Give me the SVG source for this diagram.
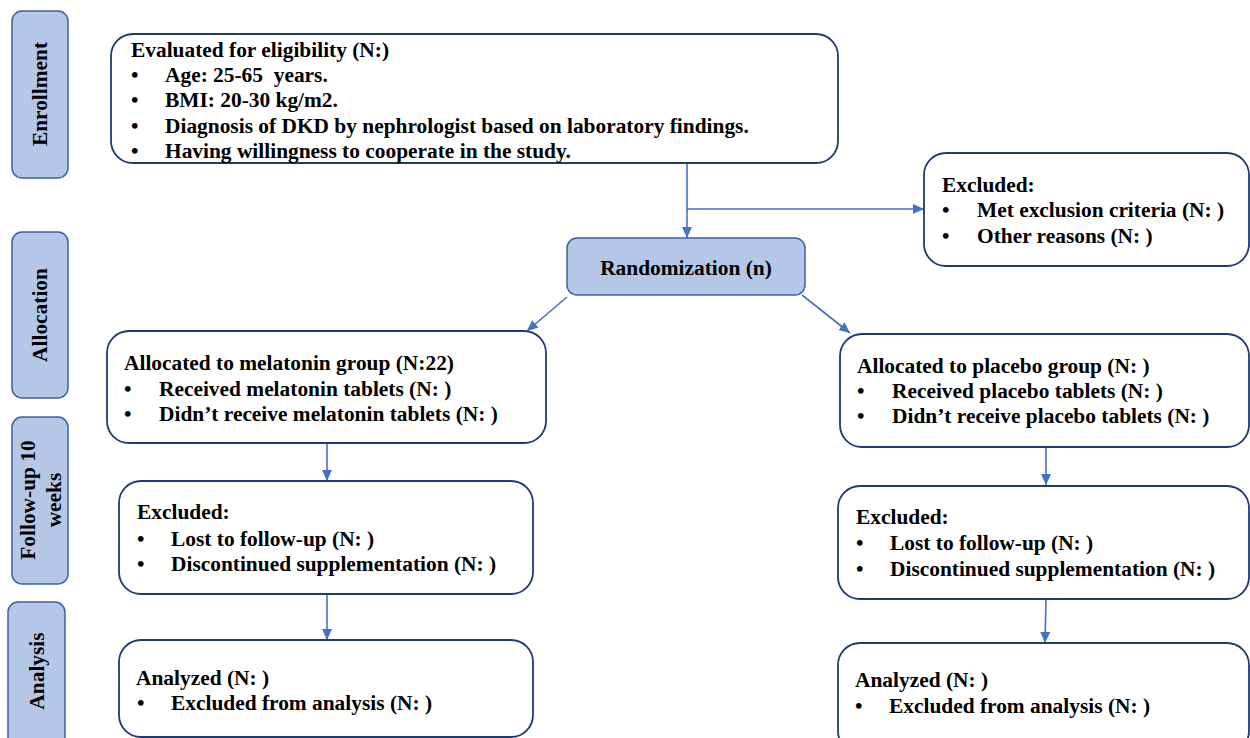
<svg xmlns="http://www.w3.org/2000/svg" width="1250" height="738" viewBox="0 0 1250 738">
<defs>
<marker id="arr" markerUnits="userSpaceOnUse" markerWidth="12" markerHeight="10" refX="11" refY="5" orient="auto">
<path d="M0,0 L11,5 L0,10 Z" fill="#4472C4"/>
</marker>
<style>
.t{font-family:"Liberation Serif","Times New Roman",serif;font-weight:bold;font-size:21.4px;fill:#000;white-space:pre}
.box{fill:#fff;stroke:#1F3A74;stroke-width:1.8}
.stage{fill:#B4C7E7;stroke:#3A62A4;stroke-width:1.5}
.c{stroke:#4472C4;stroke-width:1.6;fill:none}
</style>
</defs>
<rect width="1250" height="738" fill="#fff"/>

<g id="stage-enrollment">
<rect class="stage" x="12" y="11" width="56" height="167" rx="10"/>
<text class="t" transform="translate(47,94) rotate(-90)" text-anchor="middle">Enrollment</text>
</g>
<g id="stage-allocation">
<rect class="stage" x="12" y="232" width="56" height="166" rx="10"/>
<text class="t" transform="translate(47,315) rotate(-90)" text-anchor="middle">Allocation</text>
</g>
<g id="stage-followup">
<rect class="stage" x="12" y="417" width="56" height="167" rx="10"/>
<text class="t" transform="translate(35,500) rotate(-90)" text-anchor="middle">Follow-up 10</text>
<text class="t" transform="translate(61,500) rotate(-90)" text-anchor="middle">weeks</text>
</g>
<g id="stage-analysis">
<rect class="stage" x="8" y="602" width="57" height="150" rx="10"/>
<text class="t" transform="translate(44,671) rotate(-90)" text-anchor="middle">Analysis</text>
</g>

<g id="connectors">
<path class="c" d="M687,163 L687,238" marker-end="url(#arr)"/>
<path class="c" d="M687,209 L924,209" marker-end="url(#arr)"/>
<path class="c" d="M567,297 L527,331" marker-end="url(#arr)"/>
<path class="c" d="M802,295 L850,333" marker-end="url(#arr)"/>
<path class="c" d="M327,443 L327,481" marker-end="url(#arr)"/>
<path class="c" d="M327,594 L327,640" marker-end="url(#arr)"/>
<path class="c" d="M1046,447 L1046,485" marker-end="url(#arr)"/>
<path class="c" d="M1046,600 L1045,643" marker-end="url(#arr)"/>
</g>

<g id="eligibility">
<rect class="box" x="111" y="34" width="727" height="129" rx="22"/>
<text class="t" x="131" y="57">Evaluated for eligibility (N:)</text>
<text class="t" x="131" y="82">•</text><text class="t" x="165" y="82">Age: 25-65  years.</text>
<text class="t" x="131" y="107">•</text><text class="t" x="165" y="107">BMI: 20-30 kg/m2.</text>
<text class="t" x="131" y="133">•</text><text class="t" x="165" y="133">Diagnosis of DKD by nephrologist based on laboratory findings.</text>
<text class="t" x="131" y="158">•</text><text class="t" x="165" y="158">Having willingness to cooperate in the study.</text>
</g>

<g id="excluded-top">
<rect class="box" x="924" y="153" width="325" height="113" rx="22"/>
<text class="t" x="942" y="192">Excluded:</text>
<text class="t" x="942" y="217">•</text><text class="t" x="977" y="217">Met exclusion criteria (N: )</text>
<text class="t" x="942" y="243">•</text><text class="t" x="977" y="243">Other reasons (N: )</text>
</g>

<g id="randomization">
<rect class="stage" x="567" y="238" width="238" height="57" rx="10"/>
<text class="t" x="686" y="275" text-anchor="middle">Randomization (n)</text>
</g>

<g id="alloc-melatonin">
<rect class="box" x="107" y="331" width="439" height="112" rx="22"/>
<text class="t" x="124" y="370">Allocated to melatonin group (N:22)</text>
<text class="t" x="124" y="396">•</text><text class="t" x="159" y="396">Received melatonin tablets (N: )</text>
<text class="t" x="124" y="421">•</text><text class="t" x="159" y="421">Didn’t receive melatonin tablets (N: )</text>
</g>

<g id="alloc-placebo">
<rect class="box" x="840" y="334" width="409" height="113" rx="22"/>
<text class="t" x="857" y="373">Allocated to placebo group (N: )</text>
<text class="t" x="857" y="398">•</text><text class="t" x="892" y="398">Received placebo tablets (N: )</text>
<text class="t" x="857" y="423">•</text><text class="t" x="892" y="423">Didn’t receive placebo tablets (N: )</text>
</g>

<g id="followup-melatonin">
<rect class="box" x="119" y="481" width="414" height="113" rx="22"/>
<text class="t" x="137" y="519">Excluded:</text>
<text class="t" x="137" y="546">•</text><text class="t" x="171" y="546">Lost to follow-up (N: )</text>
<text class="t" x="137" y="571">•</text><text class="t" x="171" y="571">Discontinued supplementation (N: )</text>
</g>

<g id="followup-placebo">
<rect class="box" x="838" y="486" width="411" height="113" rx="22"/>
<text class="t" x="856" y="524">Excluded:</text>
<text class="t" x="856" y="550">•</text><text class="t" x="890" y="550">Lost to follow-up (N: )</text>
<text class="t" x="856" y="576">•</text><text class="t" x="890" y="576">Discontinued supplementation (N: )</text>
</g>

<g id="analysis-melatonin">
<rect class="box" x="119" y="640" width="414" height="97" rx="22"/>
<text class="t" x="136" y="685">Analyzed (N: )</text>
<text class="t" x="137" y="710">•</text><text class="t" x="171" y="710">Excluded from analysis (N: )</text>
</g>

<g id="analysis-placebo">
<rect class="box" x="838" y="643" width="411" height="110" rx="22"/>
<text class="t" x="855" y="687">Analyzed (N: )</text>
<text class="t" x="855" y="713">•</text><text class="t" x="889" y="713">Excluded from analysis (N: )</text>
</g>
</svg>
